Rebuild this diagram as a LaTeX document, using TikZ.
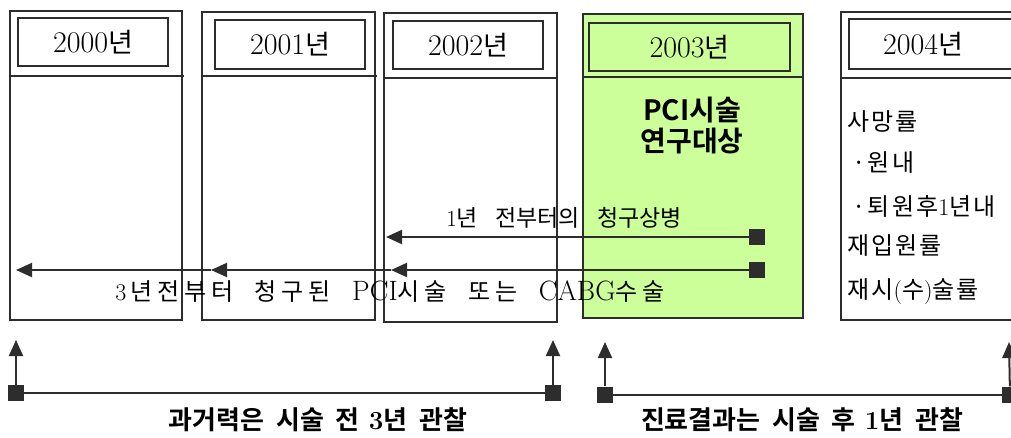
\documentclass[tikz,border=0pt]{standalone}
\usepackage{fontspec}
\newfontfamily\kr[BoldFont={Noto Sans CJK KR Bold}]{Noto Sans CJK KR}
\newfontfamily\krs[LetterSpace=20]{Noto Sans CJK KR}
\newfontfamily\krw[LetterSpace=9]{Noto Sans CJK KR}
\usetikzlibrary{arrows.meta}
\definecolor{linec}{RGB}{45,45,45}
\definecolor{greenf}{RGB}{204,255,153}
\newcommand\K[1]{{\kr #1}}
\newcommand\KS[1]{{\krs #1}}
\newcommand\yr[1]{#1{\kr\fontsize{27}{30}\selectfont 년}}
\tikzset{
  colbox/.style={draw=linec,line width=2pt},
  hdrbox/.style={draw=linec,line width=2.5pt,inner sep=0pt,font=\fontsize{30}{34}\selectfont},
  sqnode/.style={fill=linec,draw=none,minimum size=16pt,inner sep=0pt},
  arr/.style={draw=linec,line width=2pt,-{Triangle[length=16pt,width=14pt]}},
  plainline/.style={draw=linec,line width=2pt},
  sidetxt/.style={anchor=west,inner sep=0pt,font=\krw\fontsize{24}{28}\selectfont},
  bottxt/.style={font=\bfseries\fontsize{26}{30}\selectfont},
}
\begin{document}
\begin{tikzpicture}[x=1pt,y=-1pt]
\useasboundingbox (0,0) rectangle (1011,437);
\clip (0,0) rectangle (1011,437);
% columns
\draw[colbox] (10,11) rectangle (182,320);
\draw[colbox] (10,76) -- (184,76);
\draw[colbox] (202,12) rectangle (375,320);
\draw[colbox] (202,76) -- (377,76);
\draw[colbox] (384,13) rectangle (557,322);
\draw[colbox] (384,78) -- (557,78);
\draw[colbox,fill=greenf] (583,14) rectangle (803,318);
\draw[colbox] (583,77) -- (803,77);
\draw[colbox] (841,12) rectangle (1030,320);
\draw[colbox] (841,78) -- (1030,78);
% header boxes
\node[hdrbox,minimum width=150pt,minimum height=48pt] (h1) at (93,42) {\yr{2000}};
\node[hdrbox,minimum width=150pt,minimum height=49pt] (h2) at (290,44.5) {\yr{2001}};
\node[hdrbox,minimum width=150pt,minimum height=48pt] (h3) at (468,45) {\yr{2002}};
\node[hdrbox,minimum width=201pt,minimum height=48pt] (h4) at (689.5,47) {\yr{2003}};
\draw[draw=linec,line width=2.5pt] (1030,19) -- (849,19) -- (849,69) -- (1030,69);
\node[font=\fontsize{30}{34}\selectfont] (h5) at (923,44) {\yr{2004}};
% green column text
\node[font=\kr\bfseries\fontsize{28}{31}\selectfont,align=center] (pci) at (692,125) {PCI시술\\연구대상};
% 2004 column text
\node[sidetxt] (r1) at (847,122) {사망률};
\node[sidetxt] (r2) at (852,163) {·원내};
\node[sidetxt] (r3) at (852,206) {·퇴원후{\rmfamily 1}년내};
\node[sidetxt] (r4) at (847,246) {재입원률};
\node[sidetxt] (r5) at (847,292) {재시{\rmfamily (}수{\rmfamily )}술률};
% arrows
\node[sqnode] (s1) at (757,237) {};
\coordinate (t1) at (386,237);
\draw[arr] (s1) -- (t1);
\node[sqnode] (s2) at (757,270) {};
\coordinate (t2a) at (391,270);
\coordinate (t2b) at (211,270);
\coordinate (t2c) at (16,270);
\draw[arr] (s2) -- (t2a);
\draw[arr] (t2a) -- (t2b);
\draw[arr] (t2b) -- (t2c);
\node[font=\fontsize{23}{26}\selectfont] (lab1) at (564,218) {1\K{년}\hskip.75em\K{전부터의}\hskip.75em\K{청구상병}};
\node[font=\fontsize{24}{28}\selectfont] (lab2) at (390,291) {3\,\KS{년전부터}\hskip.9em\KS{청구된}\hskip.9em{\fontsize{28}{30}\selectfont PCI}\KS{시술}\hskip.9em\KS{또는}\hskip.9em{\fontsize{28}{30}\selectfont CABG}\KS{수술}};
% bottom brackets
\node[sqnode] (b1) at (16,393) {};
\node[sqnode] (b2) at (553,393) {};
\coordinate (b1t) at (16,340);
\coordinate (b2t) at (553,340);
\draw[arr] (b1) -- (b1t);
\draw[arr] (b2) -- (b2t);
\draw[plainline] (b1) -- (b2);
\node[sqnode] (b3) at (605,394.5) {};
\node[sqnode] (b4) at (1010,394.5) {};
\coordinate (b3t) at (605,342);
\coordinate (b4t) at (1009,342);
\draw[arr] (b3) -- (b3t);
\draw[arr] (b4) -- (b4t);
\draw[plainline] (b3) -- (b4);
\node[bottxt] (bt1) at (318,420) {\K{과거력은}\hskip.45em\K{시술}\hskip.45em\K{전}\hskip.35em 3\K{년}\hskip.45em\K{관찰}};
\node[bottxt] (bt2) at (802,420) {\K{진료결과는}\hskip.45em\K{시술}\hskip.45em\K{후}\hskip.35em 1\K{년}\hskip.45em\K{관찰}};
\end{tikzpicture}
\end{document}
